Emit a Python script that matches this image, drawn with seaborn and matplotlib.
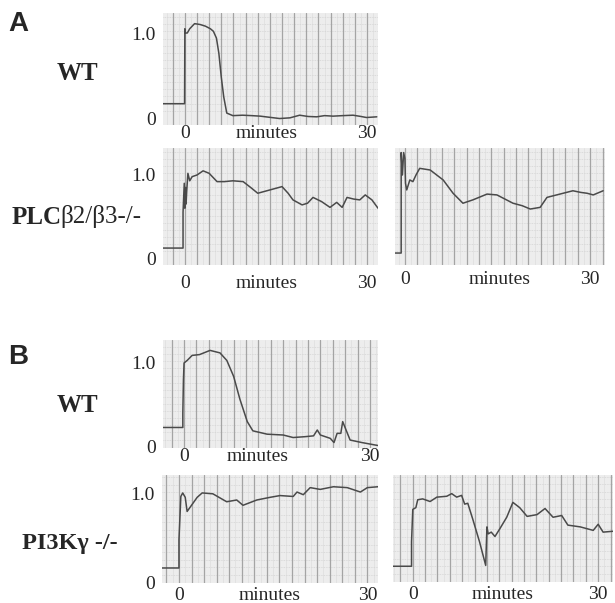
import matplotlib.pyplot as plt
from matplotlib.ticker import MultipleLocator
import seaborn as sns

# Recorder traces (time in minutes, signal normalised to 1.0)
A_WT_T = [-3.6, -0.05, 0.0, 0.1, 0.4, 0.8, 1.6, 2.5, 3.4, 4.2, 4.7, 5.2, 5.6, 6.0,
          6.4, 6.9, 7.9, 9.5, 11.0, 12.4, 14.0, 15.6, 17.3, 18.9, 20.3, 21.7,
          23.0, 24.4, 26.0, 27.7, 29.0, 29.9, 31.6]
A_WT_Y = [0.17, 0.17, 1.05, 1.0, 1.0, 1.05, 1.11, 1.10, 1.08, 1.05, 1.02, 0.94,
          0.76, 0.48, 0.25, 0.06, 0.03, 0.035, 0.03, 0.024, 0.01, -0.004, 0.004,
          0.035, 0.02, 0.016, 0.03, 0.024, 0.03, 0.035, 0.02, 0.008, 0.016]

A_PLC1_T = [-3.6, -0.3, -0.3, -0.1, 0.0, 0.1, 0.2, 0.3, 0.5, 0.8, 1.2, 2.0, 3.0,
            4.0, 5.3, 6.5, 7.9, 9.6, 11.0, 12.0, 13.0, 14.0, 15.0, 16.0, 17.0,
            17.8, 19.3, 20.2, 21.1, 22.5, 23.9, 25.0, 25.9, 26.7, 27.8, 28.8,
            29.7, 30.8, 31.8]
A_PLC1_Y = [0.12, 0.12, 0.55, 0.9, 0.6, 0.85, 0.65, 0.8, 1.02, 0.93, 0.98, 1.0,
            1.05, 1.02, 0.92, 0.92, 0.93, 0.92, 0.84, 0.78, 0.8, 0.82, 0.84,
            0.86, 0.78, 0.70, 0.64, 0.66, 0.73, 0.68, 0.61, 0.67, 0.61, 0.73,
            0.71, 0.70, 0.76, 0.70, 0.60]

A_PLC2_T = [-1.6, -0.6, -0.6, -0.4, -0.2, 0.0, 0.1, 0.3, 0.8, 1.3, 1.8, 2.4, 4.1,
            6.2, 7.8, 9.4, 11.0, 13.3, 14.9, 16.2, 17.5, 19.0, 20.3, 21.9, 23.0,
            25.1, 27.2, 28.5, 29.5, 30.5, 32.1]
A_PLC2_Y = [0.06, 0.06, 1.27, 1.0, 1.27, 1.2, 0.9, 0.82, 0.94, 0.92, 1.0, 1.08,
            1.06, 0.94, 0.78, 0.66, 0.70, 0.77, 0.76, 0.71, 0.66, 0.63, 0.59,
            0.61, 0.73, 0.77, 0.81, 0.79, 0.78, 0.76, 0.81]

B_WT_T = [-3.4, -0.2, -0.2, -0.1, 0.0, 0.5, 1.3, 2.5, 4.2, 5.8, 6.9, 8.0, 9.0,
          10.2, 11.1, 13.4, 16.0, 17.6, 19.5, 20.9, 21.5, 22.0, 23.6, 24.2,
          24.7, 25.3, 25.6, 26.2, 26.8, 28.7, 30.9, 31.7]
B_WT_Y = [0.23, 0.23, 0.4, 0.8, 1.0, 1.03, 1.09, 1.10, 1.15, 1.12, 1.03, 0.84,
          0.57, 0.30, 0.19, 0.15, 0.14, 0.11, 0.12, 0.13, 0.20, 0.14, 0.10,
          0.05, 0.16, 0.16, 0.30, 0.19, 0.08, 0.05, 0.02, 0.01]

B_PI3K1_T = [-2.7, 0.0, 0.0, 0.3, 0.6, 1.0, 1.3, 1.8, 2.9, 3.7, 5.4, 7.6, 9.2,
             10.2, 12.4, 14.5, 16.1, 18.2, 18.8, 19.8, 20.9, 22.5, 24.6, 26.8,
             28.9, 30.0, 31.7]
B_PI3K1_Y = [0.16, 0.16, 0.48, 0.97, 1.01, 0.96, 0.80, 0.85, 0.96, 1.01, 1.0,
             0.91, 0.93, 0.87, 0.93, 0.96, 0.98, 0.97, 1.02, 0.99, 1.07, 1.05,
             1.08, 1.07, 1.02, 1.07, 1.08]

B_PI3K2_T = [-3.2, -0.2, -0.2, 0.0, 0.5, 0.8, 1.6, 2.8, 3.9, 5.5, 6.3, 7.1, 7.9,
             8.4, 8.9, 9.7, 10.8, 11.8, 12.0, 12.2, 12.7, 13.3, 14.1, 15.2, 16.2,
             17.3, 18.5, 20.1, 21.4, 22.7, 24.1, 25.1, 27.1, 29.2, 30.0, 30.8,
             32.4]
B_PI3K2_Y = [0.17, 0.17, 0.45, 0.82, 0.84, 0.93, 0.94, 0.91, 0.96, 0.97, 1.0,
             0.96, 0.98, 0.88, 0.89, 0.71, 0.45, 0.18, 0.62, 0.54, 0.56, 0.51,
             0.60, 0.73, 0.90, 0.84, 0.74, 0.76, 0.83, 0.73, 0.75, 0.64, 0.62,
             0.58, 0.65, 0.56, 0.57]

TRACES = [
    (A_WT_T, A_WT_Y), (A_PLC1_T, A_PLC1_Y), (A_PLC2_T, A_PLC2_Y),
    (B_WT_T, B_WT_Y), (B_PI3K1_T, B_PI3K1_Y), (B_PI3K2_T, B_PI3K2_Y),
]
PANEL_LETTERS = ["A", "B"]
XTICK_LABELS = ["0", "minutes", "30"]
YTICK_LABELS = ["0", "1.0"]

W, H = 615, 603
# pixel box (left, top, right, bottom), xlim, ylim, "minutes" position, x pad, y labels
PANELS = [
    ((163, 13, 378, 125), (-3.6, 31.8), (-0.08, 1.235), 13.5, 0, True),
    ((163, 148, 378, 265), (-3.6, 31.8), (-0.084, 1.325), 13.5, 7, True),
    ((395, 148, 605, 265), (-1.6, 32.4), (-0.084, 1.325), 15.4, 4, False),
    ((163, 340, 378, 448), (-3.4, 31.3), (-0.015, 1.274), 11.8, 0, True),
    ((162, 475, 378, 583), (-2.7, 31.7), (-0.01, 1.213), 14.5, 3, True),
    ((393, 475, 613, 582), (-3.2, 32.4), (-0.01, 1.213), 14.6, 3, False),
]

sns.set_theme(style="white")
plt.rcParams["font.family"] = ["Liberation Serif", "DejaVu Serif"]

fig = plt.figure(figsize=(W / 100, H / 100), dpi=100)
fig.patch.set_facecolor("white")

for (t, y), (box, xlim, ylim, mid, xpad, ylab) in zip(TRACES, PANELS):
    l, tp, r, b = box
    ax = fig.add_axes([l / W, 1 - b / H, (r - l) / W, (b - tp) / H])
    ax.set_facecolor("#ededed")
    # chart-paper grid: darker lines every 2 min, faint ruling in between
    ax.xaxis.set_minor_locator(MultipleLocator(1.0))
    ax.yaxis.set_minor_locator(MultipleLocator(0.085))
    for v in range(-4, 34, 2):
        ax.axvline(v, color="#a4a4a4", lw=0.9, zorder=1)
    ax.grid(which="minor", axis="x", color="#dedede", lw=0.5, zorder=0)
    ax.grid(which="minor", axis="y", color="#d4d4d4", lw=0.6, ls=(0, (1, 1)), zorder=0)
    sns.lineplot(x=t, y=y, ax=ax, sort=False, estimator=None,
                 color="#4a4a4a", lw=1.1, zorder=3)
    ax.set_xlim(*xlim)
    ax.set_ylim(*ylim)
    for s in ax.spines.values():
        s.set_visible(False)
    ax.set_xticks([0, mid, 30])
    ax.set_xticklabels(XTICK_LABELS, fontsize=14)
    ax.tick_params(axis="x", which="both", length=0, pad=xpad)
    if ylab:
        ax.set_yticks([0, 1.0])
        ax.set_yticklabels(YTICK_LABELS, fontsize=14)
        ax.tick_params(axis="y", which="both", length=0, pad=5)
    else:
        ax.tick_params(axis="y", which="both", length=0, labelleft=False)

# row labels
fig.text(77 / W, 1 - 74 / H, "WT", ha="center", va="center", fontsize=18, fontweight="bold")
fig.text(77 / W, 1 - 406 / H, "WT", ha="center", va="center", fontsize=18, fontweight="bold")
fig.text(62 / W, 1 - 217 / H, "PLC", ha="right", va="center", fontsize=18, fontweight="bold")
fig.text(60 / W, 1 - 217 / H, "β2/β3-/-", ha="left", va="center", fontsize=18)
fig.text(70 / W, 1 - 543 / H, "PI3Kγ -/-", ha="center", va="center", fontsize=17.5, fontweight="bold")

for lab, (xp, yp) in zip(PANEL_LETTERS, [(8, 24), (8, 357)]):
    fig.text(xp / W, 1 - yp / H, lab, ha="left", va="center", fontsize=20,
             fontweight="bold", family=["Liberation Sans", "DejaVu Sans"])

fig.savefig("out.png", dpi=100)
